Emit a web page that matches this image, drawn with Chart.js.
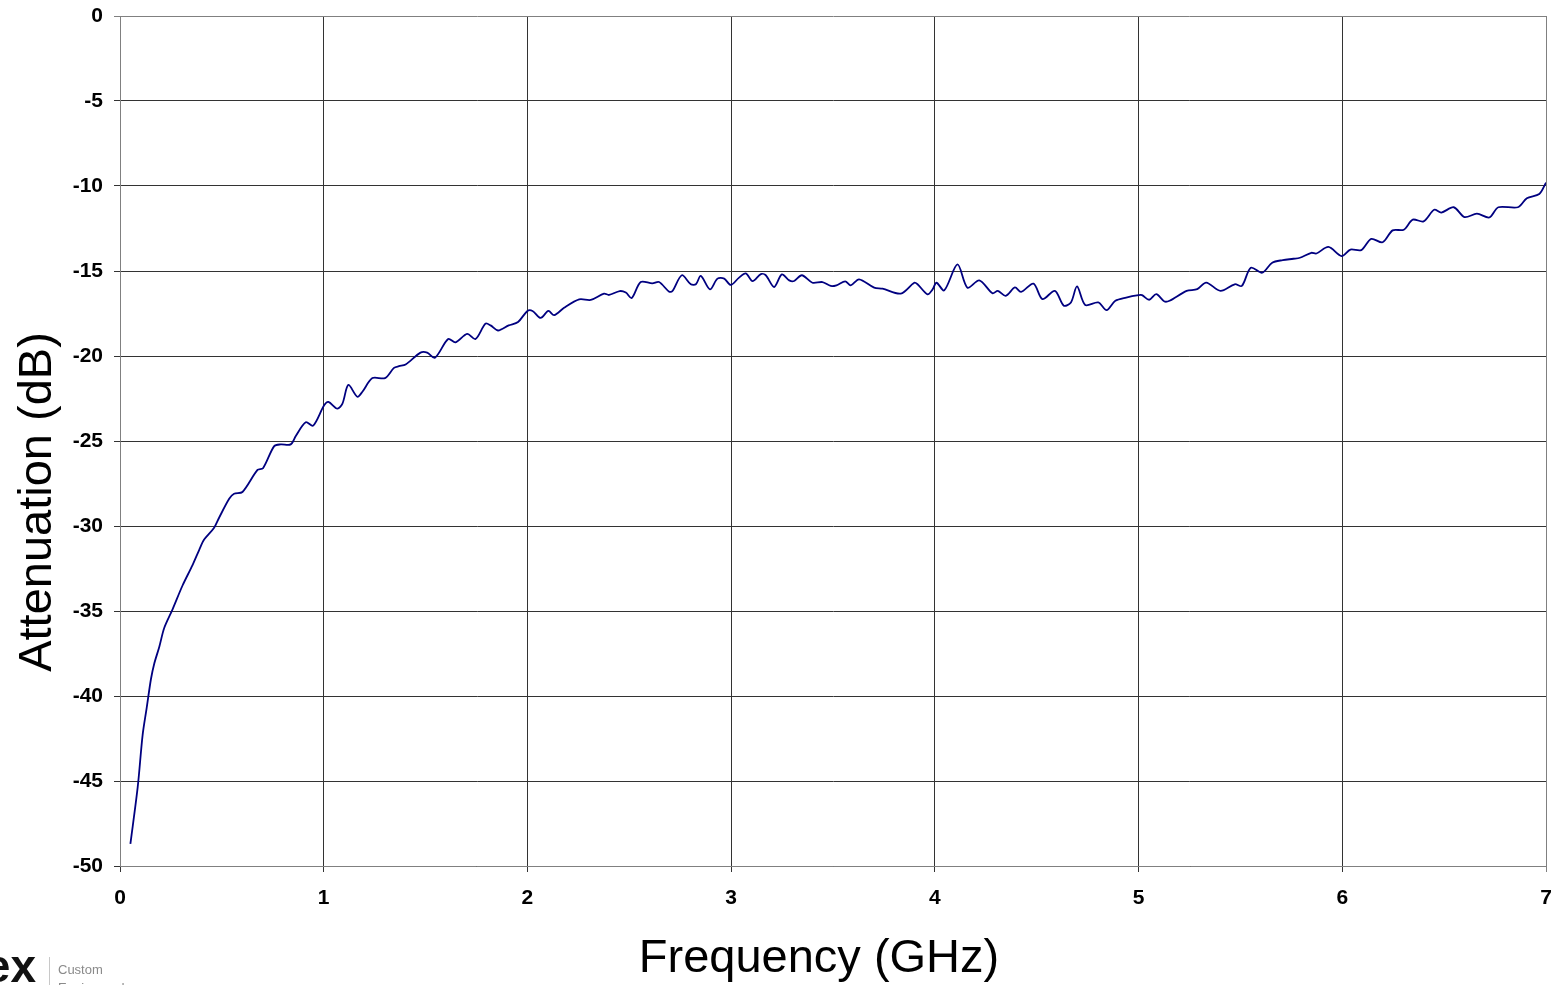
<!DOCTYPE html>
<html><head><meta charset="utf-8">
<script src="https://cdn.jsdelivr.net/npm/chart.js@4/dist/chart.umd.min.js"></script>
<style>html,body{margin:0;padding:0;background:#fff;overflow:hidden}canvas{display:block}</style>
</head><body>
<canvas id="c" width="1555" height="985"></canvas>
<script>
const freqGHz = [
0.051,0.087,0.111,0.131,0.152,0.168,0.193,0.217,0.258,0.307,0.356,0.389,0.413,0.462,0.487,0.536,0.560,0.601,0.675,0.702,
0.757,0.789,0.838,0.863,0.912,0.948,1.002,1.023,1.067,1.092,1.121,1.165,1.190,1.239,1.301,1.345,1.369,1.402,1.475,1.508,
1.546,1.611,1.647,1.704,1.745,1.794,1.819,1.856,1.908,1.954,2.000,2.025,2.065,2.103,2.131,2.180,2.254,2.311,2.376,2.401,
2.453,2.483,2.512,2.556,2.613,2.646,2.696,2.712,2.758,2.802,2.827,2.851,2.896,2.933,2.966,2.998,3.039,3.072,3.105,3.146,
3.170,3.211,3.249,3.285,3.309,3.347,3.399,3.448,3.489,3.517,3.560,3.587,3.628,3.702,3.743,3.833,3.899,3.915,3.964,3.989,
4.008,4.046,4.111,4.160,4.218,4.283,4.309,4.348,4.393,4.423,4.484,4.528,4.589,4.633,4.668,4.698,4.738,4.802,4.843,4.886,
4.939,5.000,5.017,5.052,5.087,5.127,5.152,5.236,5.288,5.332,5.402,5.472,5.507,5.551,5.607,5.656,5.708,5.760,5.792,5.848,
5.873,5.932,5.997,6.040,6.093,6.142,6.198,6.247,6.302,6.346,6.399,6.451,6.486,6.547,6.600,6.661,6.722,6.766,6.862,6.906,
6.967,7.000];
const attenuationDb = [
-48.7,-45.35,-42.3,-40.7,-39.0,-38.1,-37.1,-36.0,-34.9,-33.5,-32.3,-31.4,-30.8,-30.1,-29.5,-28.4,-28.1,-28.0,-26.7,-26.6,
-25.3,-25.2,-25.2,-24.7,-23.9,-24.1,-22.9,-22.7,-23.1,-22.8,-21.7,-22.4,-22.1,-21.3,-21.3,-20.7,-20.6,-20.5,-19.8,-19.8,
-20.1,-19.0,-19.2,-18.7,-19.0,-18.1,-18.2,-18.5,-18.2,-18.0,-17.35,-17.35,-17.76,-17.35,-17.6,-17.16,-16.67,-16.7,-16.33,-16.41,
-16.18,-16.27,-16.59,-15.65,-15.73,-15.65,-16.22,-16.18,-15.25,-15.78,-15.78,-15.29,-16.08,-15.45,-15.45,-15.82,-15.39,-15.14,-15.59,-15.18,
-15.25,-15.94,-15.2,-15.55,-15.59,-15.25,-15.69,-15.65,-15.88,-15.84,-15.61,-15.84,-15.49,-15.98,-16.04,-16.33,-15.69,-15.78,-16.37,-16.08,
-15.69,-16.14,-14.61,-15.98,-15.55,-16.31,-16.17,-16.46,-15.97,-16.23,-15.74,-16.65,-16.17,-17.04,-16.85,-15.91,-17.0,-16.85,-17.3,-16.75,
-16.56,-16.42,-16.42,-16.69,-16.36,-16.79,-16.75,-16.17,-16.07,-15.68,-16.17,-15.78,-15.88,-14.81,-15.1,-14.51,-14.36,-14.28,-14.22,-13.93,
-13.97,-13.58,-14.12,-13.74,-13.77,-13.11,-13.31,-12.61,-12.57,-11.98,-12.08,-11.4,-11.56,-11.25,-11.83,-11.63,-11.85,-11.25,-11.25,-10.72,
-10.47,-9.8];
const xTickValues = [0,1,2,3,4,5,6,7];
const yTickValues = [0,-5,-10,-15,-20,-25,-30,-35,-40,-45,-50];
const xTitle = 'Frequency (GHz)';
const yTitle = 'Attenuation (dB)';
const logoMark = 'ex';
const logoLine1 = 'Custom';
const logoLine2 = 'Engineered';

const FONT = "'Liberation Sans', Arial, sans-serif";

const decor = {
  id: 'decor',
  afterDraw(chart) {
    const ctx = chart.ctx;
    ctx.save();
    ctx.fillStyle = '#000';
    ctx.font = '47px ' + FONT;
    ctx.textAlign = 'center';
    ctx.textBaseline = 'alphabetic';
    ctx.fillText(xTitle, 819, 972);
    ctx.save();
    ctx.translate(51, 502);
    ctx.rotate(-Math.PI / 2);
    ctx.fillText(yTitle, 0, 0);
    ctx.restore();
    // logo fragment
    ctx.textAlign = 'right';
    ctx.font = 'bold 46px ' + FONT;
    ctx.fillStyle = '#111';
    ctx.fillText(logoMark, 36, 982);
    ctx.strokeStyle = '#c8c8c8';
    ctx.lineWidth = 1;
    ctx.beginPath();
    ctx.moveTo(49.5, 957);
    ctx.lineTo(49.5, 985);
    ctx.stroke();
    ctx.textAlign = 'left';
    ctx.font = '13px ' + FONT;
    ctx.fillStyle = '#8a8a8a';
    ctx.fillText(logoLine1, 58, 974);
    ctx.fillText(logoLine2, 58, 992);
    ctx.restore();
  }
};

new Chart(document.getElementById('c'), {
  type: 'line',
  data: {
    datasets: [{
      data: freqGHz.map((f, i) => ({ x: f, y: attenuationDb[i] })),
      borderColor: '#000080',
      borderWidth: 1.8,
      pointRadius: 0,
      tension: 0.3,
      fill: false
    }]
  },
  options: {
    responsive: false,
    animation: false,
    layout: { padding: { top: 16, right: 9, left: 0, bottom: 0 } },
    plugins: { legend: { display: false }, tooltip: { enabled: false } },
    scales: {
      x: {
        type: 'linear', min: 0, max: 7,
        afterBuildTicks: s => { s.ticks = xTickValues.map(v => ({ value: v })); },
        afterFit: s => { s.height = 119; s.paddingLeft = 0; s.paddingRight = 0; },
        ticks: { color: '#000', font: { family: FONT, size: 21, weight: 'bold' }, padding: 14, maxRotation: 0, autoSkip: false },
        grid: { color: c => (c.tick && c.tick.value === 7) ? '#808080' : '#333333', lineWidth: 1, tickLength: 6 },
        border: { color: '#808080', width: 1 }
      },
      y: {
        type: 'linear', min: -50, max: 0,
        afterBuildTicks: s => { s.ticks = yTickValues.map(v => ({ value: v })); },
        afterFit: s => { s.width = 120; s.paddingTop = 0; s.paddingBottom = 0; },
        ticks: { color: '#000', font: { family: FONT, size: 21, weight: 'bold' }, padding: 11 },
        grid: { color: c => (c.tick && c.tick.value === 0) ? '#808080' : '#333333', lineWidth: 1, tickLength: 6 },
        border: { color: '#808080', width: 1 }
      }
    }
  },
  plugins: [decor]
});
</script>
</body></html>
